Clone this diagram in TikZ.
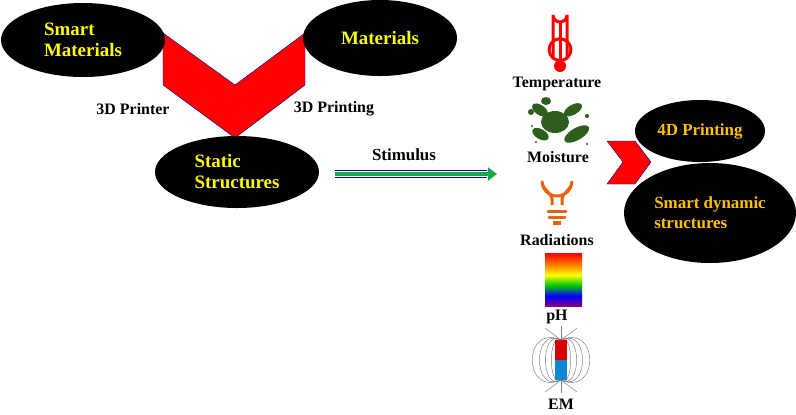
\documentclass[tikz,border=0pt]{standalone}
\usepackage{fontspec}
\setmainfont{Liberation Serif}
\usetikzlibrary{shapes.geometric,arrows.meta}
\definecolor{yel}{HTML}{FFFF00}
\definecolor{org}{HTML}{FFC000}
\definecolor{splat}{HTML}{2E5E1E}
\definecolor{bulb}{HTML}{E8620C}
\definecolor{grn}{HTML}{18A84A}
\tikzset{
 blob/.style={ellipse,fill=black,inner sep=0pt,align=left,font=\bfseries\fontsize{19}{21}\selectfont},
 lbl/.style={font=\bfseries\fontsize{16}{18}\selectfont,inner sep=0pt},
}
\begin{document}
\begin{tikzpicture}[x=1bp,y=-1bp]
\useasboundingbox (0,0) rectangle (796,414);
% chevron
\draw[fill=red,draw=blue!60!black,line width=0.4pt] (163,33)--(235,85)--(305,33)--(305,85)--(235,138)--(163,85)--cycle;
\node[blob,minimum width=164bp,minimum height=74bp,text=yel] (sm) at (83,40) {Smart\\Materials};
\node[blob,minimum width=154bp,minimum height=76bp,text=yel] (mat) at (380,38) {Materials};
\node[blob,minimum width=164bp,minimum height=72bp,text=yel] (ss) at (237,172) {Static\\Structures};
\node[lbl] (p1) at (133,109) {3D Printer};
\node[lbl] (p2) at (334,109) {3D Printing};
\node[lbl,font=\bfseries\fontsize{17}{19}\selectfont] (st) at (404,155) {Stimulus};
\coordinate (a1) at (335,174);
\coordinate (a2) at (497,174);
\draw[grn,line width=4.5pt,-{Triangle[length=9bp,width=13bp]}] (a1)--(a2);
\draw[blue!70!black,line width=0.4pt] (335,170.5)--(487,170.5) (335,177.5)--(487,177.5);
% thermometer
\draw[red,line width=3pt] (553,58) -- (553,15) arc[start angle=180,end angle=0,radius=7] -- (567,58);
\draw[red,line width=3pt] (553,58) arc[start angle=130,end angle=-310,radius=10.9];
\fill[red] (560,66) circle (6);
\draw[red,line width=3pt] (560,22)--(560,62);
\node[lbl] (temp) at (557,84) {Temperature};
% splat
\begin{scope}[fill=splat]
\fill (555,122) ellipse (14 and 11);
\fill[rotate around={-35:(540,110)}] (540,110) ellipse (9 and 5);
\fill[rotate around={30:(572,108)}] (572,110) ellipse (10 and 5);
\fill[rotate around={30:(575,135)}] (577,135) ellipse (14 and 6);
\fill[rotate around={-30:(540,135)}] (540,134) ellipse (9 and 5);
\fill (546,101) ellipse (5 and 4);
\fill (531,112) circle (3);
\fill (587,116) circle (2);
\fill (536,142) circle (1.2);
\fill (587,144) circle (1.2);
\fill (532,126) circle (1.2);
\end{scope}
\node[lbl] (moist) at (558,157) {Moisture};
% bulb
\draw[bulb,line width=3pt] (552,205) -- (552,199) .. controls (552,193) and (542,190) .. (542,181) arc[start angle=180,end angle=0,radius=15] .. controls (572,190) and (562,193) .. (562,199) -- (562,205);
\draw[bulb,line width=3pt,line cap=round] (548,211)--(566,211) (549,217)--(565,217);
\fill[bulb] (553,221) rectangle (561,225);
\node[lbl] (rad) at (557,240) {Radiations};
% rainbow
\shade[top color=red,bottom color=orange] (545,253) rectangle (582,265);
\shade[top color=orange,bottom color=yellow] (545,265) rectangle (582,275);
\shade[top color=yellow,bottom color=green!80!black] (545,275) rectangle (582,285);
\shade[top color=green!80!black,bottom color=blue] (545,285) rectangle (582,296);
\shade[top color=blue,bottom color=violet] (545,296) rectangle (582,306);
\node[lbl] (ph) at (557,317) {pH};
% magnet
\begin{scope}[gray,line width=0.5pt]
\foreach \r in {8,13,18,24}{
 \draw (561,340) .. controls (561-\r*1.6,335-\r*0.5) and (561-\r*1.6,385+\r*0.5) .. (561,380);
 \draw (561,340) .. controls (561+\r*1.6,335-\r*0.5) and (561+\r*1.6,385+\r*0.5) .. (561,380);
}
\draw (561,340)--(561,326) (561,380)--(561,393);
\draw (561,340)--(545,328) (561,340)--(577,328) (561,380)--(545,392) (561,380)--(577,392);
\end{scope}
\fill[red!85!black] (555,340) rectangle (567,360);
\fill[cyan!70!blue] (555,360) rectangle (567,380);
\node[lbl] (em) at (561,404) {EM};
% right chevron
\draw[fill=red,draw=blue!60!black,line width=0.4pt] (607,141)--(635,141)--(651,162)--(635,184)--(607,184)--(623,162)--cycle;
\node[blob,minimum width=130bp,minimum height=62bp,text=org,font=\bfseries\fontsize{17}{19}\selectfont] (fd) at (700,131) {4D Printing};
\node[blob,minimum width=172bp,minimum height=100bp,text=org,font=\bfseries\fontsize{17}{20}\selectfont] (sd) at (710,213) {Smart dynamic\\structures};
\end{tikzpicture}
\end{document}
